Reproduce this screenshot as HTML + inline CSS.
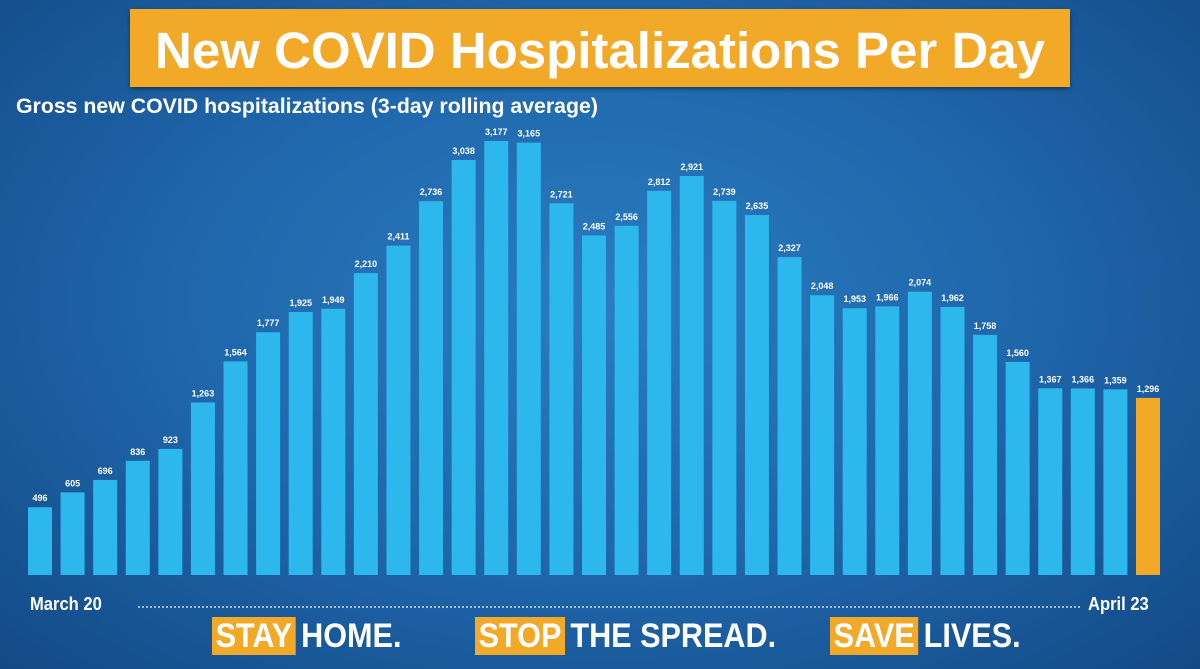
<!DOCTYPE html>
<html><head><meta charset="utf-8"><style>
body{margin:0;width:1200px;height:669px;overflow:hidden;font-family:"Liberation Sans",sans-serif}
#root{position:relative;width:1200px;height:669px;background:radial-gradient(ellipse at 50% 45%,#2a7cc0 0%,#1f66ab 50%,#134a86 100%)}
.banner{position:absolute;left:130px;top:9px;width:940px;height:78px;background:#f2a928;box-shadow:0 2px 4px rgba(0,0,0,.4)}
.banner span{position:absolute;left:0;right:0;top:12px;text-align:center;color:#fff;font-weight:bold;font-size:51px}
.sub{position:absolute;left:16px;top:94px;color:#fff;font-weight:bold;font-size:21.5px;white-space:nowrap;transform:scaleX(0.99);transform-origin:left}
.dl{position:absolute;top:594px;color:#fff;font-weight:bold;font-size:18px;transform:scaleX(0.92);transform-origin:left}
.dots{position:absolute;left:138px;right:120px;top:606px;border-top:2px dotted rgba(255,255,255,.6)}
.slog{position:absolute;top:617px;height:38px;font-weight:bold;font-size:34px;color:#fff;line-height:38px;white-space:nowrap;transform:scaleX(0.9);transform-origin:left}
.slog b{background:#f2a928;padding:0 4px;margin-right:6px}
</style></head><body>
<div id="root">
<div class="banner"><span>New COVID Hospitalizations Per Day</span></div>
<div class="sub">Gross new COVID hospitalizations (3-day rolling average)</div>
<svg id="chart" width="1200" height="669" style="position:absolute;left:0;top:0"></svg>
<div class="dl" style="left:30px">March 20</div>
<div class="dots"></div>
<div class="dl" style="left:1088px">April 23</div>
<div class="slog" style="left:212px"><b>STAY</b>HOME.</div>
<div class="slog" style="left:475px"><b>STOP</b>THE SPREAD.</div>
<div class="slog" style="left:830px"><b>SAVE</b>LIVES.</div>
</div>
<script>
const values=[496,605,696,836,923,1263,1564,1777,1925,1949,2210,2411,2736,3038,3177,3165,2721,2485,2556,2812,2921,2739,2635,2327,2048,1953,1966,2074,1962,1758,1560,1367,1366,1359,1296];
const labels=["496","605","696","836","923","1,263","1,564","1,777","1,925","1,949","2,210","2,411","2,736","3,038","3,177","3,165","2,721","2,485","2,556","2,812","2,921","2,739","2,635","2,327","2,048","1,953","1,966","2,074","1,962","1,758","1,560","1,367","1,366","1,359","1,296"];
const svg=document.getElementById('chart');
const NS='http://www.w3.org/2000/svg';
const x0=28,pitch=(1136-28)/34,bw=24,base=575,scale=(575-141)/3177;
function xs(i){return x0+i*pitch;}
function ys(v){return base-v*scale;}
values.forEach((v,i)=>{
  const r=document.createElementNS(NS,'rect');
  r.setAttribute('x',xs(i));r.setAttribute('y',ys(v));
  r.setAttribute('width',bw);r.setAttribute('height',base-ys(v));
  r.setAttribute('fill',i===values.length-1?'#f2a928':'#2cb8ec');
  
  
  svg.appendChild(r);
  const t=document.createElementNS(NS,'text');
  t.setAttribute('x',xs(i)+bw/2);t.setAttribute('y',ys(v)-6);
  t.setAttribute('text-anchor','middle');t.setAttribute('fill','#fff');
  t.setAttribute('font-size','9');t.setAttribute('font-weight','bold');
  t.setAttribute('font-family','Liberation Sans, sans-serif');
  t.textContent=labels[i];
  
  
  svg.appendChild(t);
});
</script>
</body></html>
